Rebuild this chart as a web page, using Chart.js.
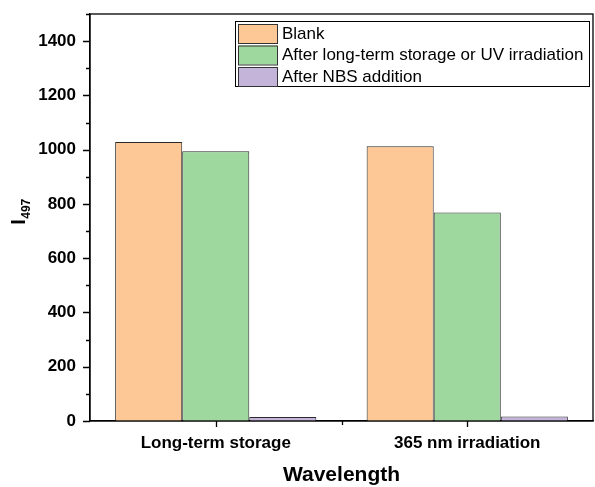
<!DOCTYPE html>
<html>
<head>
<meta charset="utf-8">
<script src="https://cdn.jsdelivr.net/npm/chart.js@4/dist/chart.umd.min.js"></script>
<style>
  html, body { margin: 0; padding: 0; background: #fff; }
  #wrap { width: 595px; height: 487px; }
</style>
</head>
<body>
<div id="wrap"><canvas id="c" width="595" height="487"></canvas></div>
<script>
// Intensity at 497 nm for each treatment
const categories = ['Long-term storage', '365 nm irradiation'];
const seriesLabels = ['Blank', 'After long-term storage or UV irradiation', 'After NBS addition'];
const blankValues = [1028, 1013];
const treatedValues = [994, 768];
const nbsValues = [15, 17];
const yTickValues = [0, 200, 400, 600, 800, 1000, 1200, 1400];
const yMinorValues = [100, 300, 500, 700, 900, 1100, 1300, 1500];

const fillColors = ['#FDC896', '#9ED89E', '#C4B4DA'];
const FONT = '"Liberation Sans", Arial, sans-serif';

// Frame, tick marks, axis titles and the boxed legend
const decorations = {
  id: 'decorations',
  afterDraw(chart) {
    const ctx = chart.ctx;
    const a = chart.chartArea;
    const x = chart.scales.x, y = chart.scales.y;
    ctx.save();
    ctx.strokeStyle = '#000';
    ctx.lineWidth = 1.3;
    // box around the plot
    ctx.strokeRect(a.left, a.top, a.right - a.left, a.bottom - a.top);

    ctx.beginPath();
    yTickValues.forEach(v => {
      const py = Math.round(y.getPixelForValue(v)) + 0.5;
      ctx.moveTo(a.left - 7, py); ctx.lineTo(a.left, py);
    });
    yMinorValues.forEach(v => {
      const py = Math.round(y.getPixelForValue(v)) + 0.5;
      ctx.moveTo(a.left - 4, py); ctx.lineTo(a.left, py);
    });
    categories.forEach((c, i) => {
      const px = Math.round(x.getPixelForValue(i)) + 0.5;
      ctx.moveTo(px, a.bottom); ctx.lineTo(px, a.bottom + 6);
    });
    for (let i = 0; i < categories.length - 1; i++) {
      const px = Math.round((x.getPixelForValue(i) + x.getPixelForValue(i + 1)) / 2) + 0.5;
      ctx.moveTo(px, a.bottom); ctx.lineTo(px, a.bottom + 4);
    }
    ctx.stroke();

    // x axis title
    ctx.fillStyle = '#000';
    ctx.font = 'bold 21px ' + FONT;
    ctx.textAlign = 'center';
    ctx.textBaseline = 'middle';
    ctx.fillText('Wavelength', (a.left + a.right) / 2, 475);

    // y axis title: I with subscript 497
    ctx.save();
    ctx.translate(25, 212);
    ctx.rotate(-Math.PI / 2);
    ctx.textAlign = 'left';
    ctx.textBaseline = 'alphabetic';
    ctx.font = 'bold 20px ' + FONT;
    const wI = ctx.measureText('I').width;
    ctx.font = 'bold 12px ' + FONT;
    const wSub = ctx.measureText('497').width;
    const start = -(wI + wSub) / 2;
    ctx.font = 'bold 20px ' + FONT;
    ctx.fillText('I', start, 0);
    ctx.font = 'bold 12px ' + FONT;
    ctx.fillText('497', start + wI + 0.5, 5);
    ctx.restore();

    // legend
    const lx = 235, ly = 21, lw = 354, lh = 65;
    ctx.lineWidth = 1;
    ctx.strokeStyle = '#000';
    ctx.strokeRect(lx + 0.5, ly + 0.5, lw, lh);
    ctx.font = '17px ' + FONT;
    ctx.textAlign = 'left';
    ctx.textBaseline = 'middle';
    chart.data.datasets.forEach((ds, i) => {
      const sy = 24 + i * 21.5;
      ctx.fillStyle = ds.backgroundColor;
      ctx.fillRect(238, sy, 39, 19);
      ctx.strokeStyle = '#333';
      ctx.strokeRect(238.5, sy + 0.5, 39, 19);
      ctx.fillStyle = '#000';
      ctx.fillText(ds.label, 282, sy + 10);
    });
    ctx.restore();
  }
};

const datasets = [blankValues, treatedValues, nbsValues].map((vals, i) => ({
  label: seriesLabels[i],
  data: vals,
  backgroundColor: fillColors[i],
  borderColor: '#2a2a2a',
  borderWidth: 1,
  borderSkipped: 'bottom'
}));

new Chart(document.getElementById('c'), {
  type: 'bar',
  data: { labels: categories, datasets },
  plugins: [decorations],
  options: {
    responsive: false,
    animation: false,
    devicePixelRatio: 1,
    layout: { padding: { top: 14, right: 2, left: 0, bottom: 0 } },
    datasets: { bar: { categoryPercentage: 0.8, barPercentage: 1.0 } },
    plugins: { legend: { display: false }, tooltip: { enabled: false } },
    scales: {
      x: {
        offset: true,
        grid: { display: false, drawTicks: false },
        border: { display: true, color: '#000', width: 1.3 },
        ticks: { color: '#000', font: { family: FONT, size: 17, weight: 'bold' }, padding: 12, maxRotation: 0 },
        afterFit(s) { s.height = 66; s.paddingLeft = 0; s.paddingRight = 0; }
      },
      y: {
        min: 0,
        max: 1500,
        grid: { display: false, drawTicks: false },
        border: { display: true, color: '#000', width: 1.3 },
        ticks: {
          color: '#000', font: { family: FONT, size: 17, weight: 'bold' }, padding: 14,
          callback: v => String(v)
        },
        afterBuildTicks(s) { s.ticks = yTickValues.map(v => ({ value: v })); },
        afterFit(s) { s.width = 90; s.paddingTop = 0; s.paddingBottom = 0; }
      }
    }
  }
});
</script>
</body>
</html>
